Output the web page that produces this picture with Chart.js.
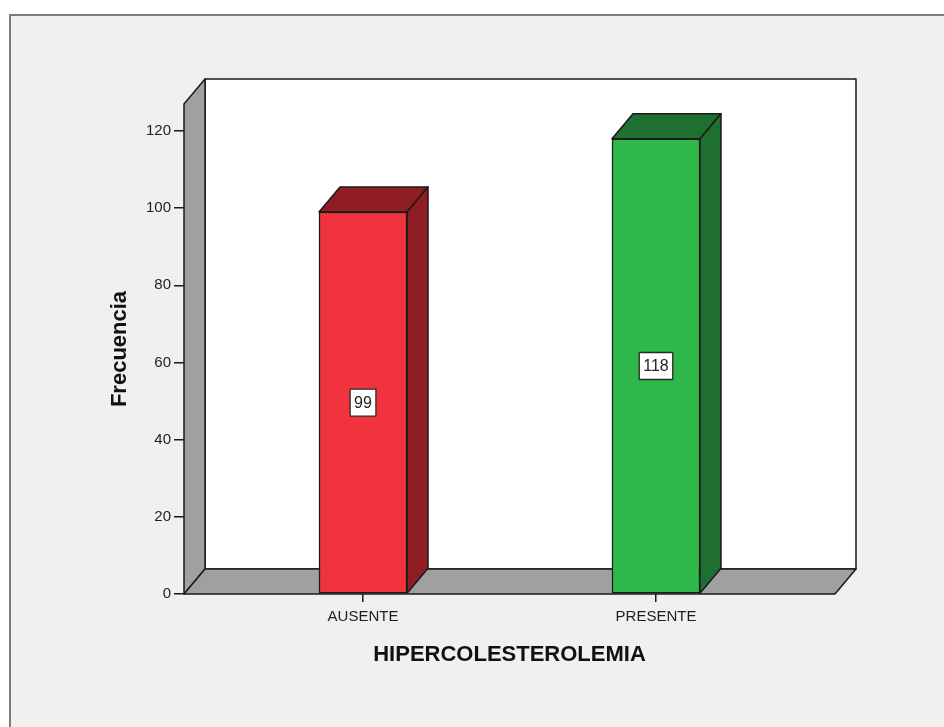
<!DOCTYPE html>
<html>
<head>
<meta charset="utf-8">
<script src="https://cdn.jsdelivr.net/npm/chart.js@4.4.1/dist/chart.umd.min.js"></script>
<style>
  html, body { margin: 0; padding: 0; background: #ffffff; overflow: hidden; }
  #frame {
    position: absolute; left: 9px; top: 14px; width: 960px; height: 740px;
    background: #f0f0f0; border: 2px solid #7c7c7c;
  }
  #wrap { position: absolute; left: 0; top: 0; width: 944px; height: 727px; }
</style>
</head>
<body>
<div id="frame"></div>
<div id="wrap"><canvas id="grafico" width="944" height="727"></canvas></div>
<script>
// Datos
const categorias = ['AUSENTE', 'PRESENTE'];
const frecuencias = [99, 118];
const marcasY = [0, 20, 40, 60, 80, 100, 120];

// Colores: cara frontal y caras de profundidad
const coloresFrente = ['#f0333d', '#2eb84a'];
const coloresFondo = ['#8f1d23', '#1f6f30'];

// desplazamiento de la perspectiva
const DX = 21, DY = -25;
const FUENTE = 'Arial, "Liberation Sans", sans-serif';

function poligono(ctx, pts, relleno) {
    ctx.beginPath();
    ctx.moveTo(pts[0][0], pts[0][1]);
    for (let i = 1; i < pts.length; i++) ctx.lineTo(pts[i][0], pts[i][1]);
    ctx.closePath();
    ctx.fillStyle = relleno;
    ctx.fill();
    ctx.stroke();
}

// Paredes y suelo del gráfico 3D
const paredes = {
    id: 'paredes',
    beforeDatasetsDraw(chart) {
        const { ctx, chartArea: a } = chart;
        ctx.save();
        ctx.strokeStyle = '#1a1a1a';
        ctx.lineWidth = 1.5;
        ctx.lineJoin = 'round';
        // pared del fondo
        poligono(ctx, [[a.left + DX, a.top + DY], [a.right + DX, a.top + DY],
                       [a.right + DX, a.bottom + DY], [a.left + DX, a.bottom + DY]], '#ffffff');
        // pared izquierda
        poligono(ctx, [[a.left, a.bottom], [a.left, a.top], [a.left + DX, a.top + DY],
                       [a.left + DX, a.bottom + DY]], '#a0a0a0');
        // suelo
        poligono(ctx, [[a.left, a.bottom], [a.right, a.bottom], [a.right + DX, a.bottom + DY],
                       [a.left + DX, a.bottom + DY]], '#a0a0a0');
        ctx.restore();
    }
};

// Caras superior y lateral de cada barra, más la etiqueta del valor
const barras3d = {
    id: 'barras3d',
    afterDatasetsDraw(chart) {
        const { ctx } = chart;
        const meta = chart.getDatasetMeta(0);
        ctx.save();
        ctx.strokeStyle = '#1a1a1a';
        ctx.lineWidth = 1.5;
        ctx.lineJoin = 'round';
        meta.data.forEach((bar, i) => {
            const p = bar.getProps(['x', 'y', 'base', 'width'], true);
            const x0 = p.x - p.width / 2, x1 = p.x + p.width / 2;
            poligono(ctx, [[x0, p.y], [x1, p.y], [x1 + DX, p.y + DY], [x0 + DX, p.y + DY]], coloresFondo[i]);
            poligono(ctx, [[x1, p.y], [x1 + DX, p.y + DY], [x1 + DX, p.base + DY], [x1, p.base]], coloresFondo[i]);

            // etiqueta
            const texto = String(frecuencias[i]);
            ctx.font = '16px ' + FUENTE;
            const w = ctx.measureText(texto).width + 8;
            const h = 27;
            const cy = (p.y + p.base) / 2;
            ctx.fillStyle = '#ffffff';
            ctx.fillRect(p.x - w / 2, cy - h / 2, w, h);
            ctx.lineWidth = 1.3;
            ctx.strokeStyle = '#2a2a2a';
            ctx.strokeRect(p.x - w / 2, cy - h / 2, w, h);
            ctx.fillStyle = '#222222';
            ctx.textAlign = 'center';
            ctx.textBaseline = 'middle';
            ctx.fillText(texto, p.x, cy + 1);
            ctx.strokeStyle = '#1a1a1a';
            ctx.lineWidth = 1.5;
        });
        ctx.restore();
    }
};

new Chart(document.getElementById('grafico'), {
    type: 'bar',
    data: {
        datasets: [{
            data: frecuencias.map((v, i) => ({ x: i, y: v })),
            backgroundColor: coloresFrente,
            borderColor: '#1a1a1a',
            borderWidth: 1.5,
            borderSkipped: false,
            barThickness: 88
        }]
    },
    options: {
        responsive: false,
        animation: false,
        layout: { padding: { left: 107, right: 109, top: 104, bottom: 59 } },
        plugins: { legend: { display: false }, tooltip: { enabled: false } },
        scales: {
            x: {
                type: 'linear',
                offset: false,
                min: -0.611,
                max: 1.611,
                afterBuildTicks: s => { s.ticks = categorias.map((c, i) => ({ value: i })); },
                afterFit: s => { s.height = 74; },
                grid: { offset: false, drawOnChartArea: false, drawTicks: true, tickLength: 8, color: '#1a1a1a', lineWidth: 1.5 },
                border: { display: false },
                ticks: {
                    padding: 6,
                    color: '#1e1e1e',
                    font: { family: FUENTE, size: 15 },
                    callback: v => categorias[v]
                },
                title: {
                    display: true,
                    text: 'HIPERCOLESTEROLEMIA',
                    color: '#111111',
                    padding: 0,
                    font: { family: FUENTE, size: 22, weight: 'bold', lineHeight: 1.2 }
                }
            },
            y: {
                min: 0,
                max: 127,
                afterBuildTicks: s => { s.ticks = marcasY.map(v => ({ value: v })); },
                afterFit: s => { s.width = 77; },
                grid: { drawOnChartArea: false, drawTicks: true, tickLength: 10, color: '#1a1a1a', lineWidth: 1.5 },
                border: { display: false },
                ticks: {
                    padding: 3,
                    color: '#1e1e1e',
                    font: { family: FUENTE, size: 15 }
                },
                title: {
                    display: true,
                    text: 'Frecuencia',
                    color: '#111111',
                    padding: 0,
                    font: { family: FUENTE, size: 22, weight: 'bold', lineHeight: 1.2 }
                }
            }
        }
    },
    plugins: [paredes, barras3d]
});
</script>
</body>
</html>
